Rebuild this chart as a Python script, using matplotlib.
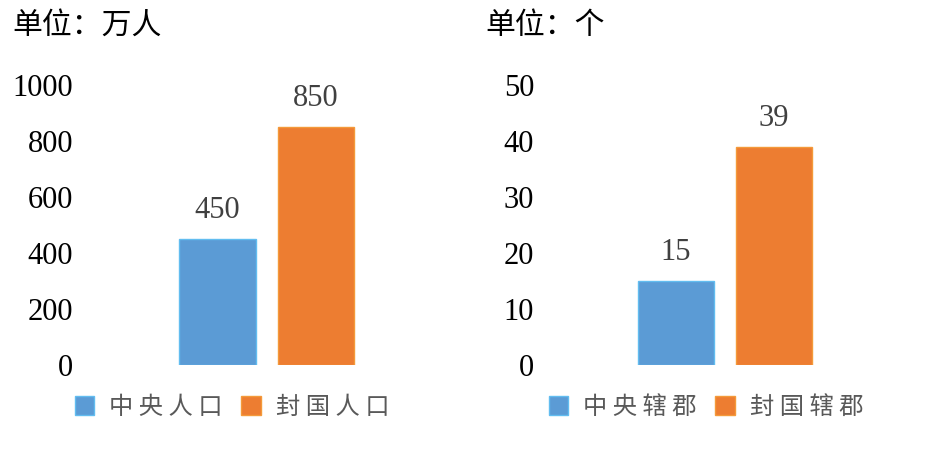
import matplotlib
matplotlib.use("Agg")
import matplotlib.pyplot as plt
from matplotlib.patches import Patch
import numpy as np

# ---- data ----
left_units = "单位：万人"
right_units = "单位：个"
left_labels = ["中 央 人 口", "封 国 人 口"]
right_labels = ["中 央 辖 郡", "封 国 辖 郡"]
left_values = [450, 850]
right_values = [15, 39]
left_ticks = [0, 200, 400, 600, 800, 1000]
right_ticks = [0, 10, 20, 30, 40, 50]

BLUE = "#5B9BD5"
ORANGE = "#ED7D31"
BLUE_EDGE = "#62BDF0"
ORANGE_EDGE = "#F49A3A"

W, H = 945, 449
fig = plt.figure(figsize=(W / 100, H / 100), dpi=100)

CJK = ["Noto Sans CJK SC", "DejaVu Sans"]
SERIF = ["Liberation Serif", "DejaVu Serif"]


def px(l, b, w, h):
    return [l / W, b / H, w / W, h / H]


def panel(rect, xlim, values, ticks, labels, units, unit_x, legend_cx):
    ax = fig.add_axes(px(*rect))
    x = np.arange(len(values))
    bars = ax.bar(x, values, width=0.78, color=[BLUE, ORANGE],
                  edgecolor=[BLUE_EDGE, ORANGE_EDGE], linewidth=1.0)
    ax.set_xlim(*xlim)
    ax.set_ylim(ticks[0], ticks[-1])
    ax.set_yticks(ticks)
    ax.set_yticklabels([str(t) for t in ticks], fontfamily=SERIF, fontsize=22, color="black")
    ax.set_xticks([])
    ax.tick_params(axis="y", length=0, pad=5.0)
    for s in ax.spines.values():
        s.set_visible(False)
    ax.bar_label(bars, labels=[str(v) for v in values], padding=10,
                 fontfamily=SERIF, fontsize=22, color="#404040")
    fig.text(unit_x / W, 1 - 25 / H, units, fontfamily=CJK, fontsize=21.5,
             color="black", ha="left", va="center")
    handles = [Patch(facecolor=BLUE, edgecolor=BLUE_EDGE),
               Patch(facecolor=ORANGE, edgecolor=ORANGE_EDGE)]
    fig.legend(handles, labels, loc="center", bbox_to_anchor=(legend_cx / W, 42 / H),
               ncol=2, frameon=False, handlelength=0.8, handleheight=0.8,
               handletextpad=0.62, columnspacing=0.75,
               prop={"family": CJK, "size": 17.5}, labelcolor="#595959")
    return ax


panel((80, 84, 373, 280), (-1.396, 2.391), left_values, left_ticks,
      left_labels, left_units, 12, 232)
panel((541, 84, 373, 280), (-1.378, 2.428), right_values, right_ticks,
      right_labels, right_units, 485, 706)

fig.savefig("out.png", dpi=100, facecolor="white")
